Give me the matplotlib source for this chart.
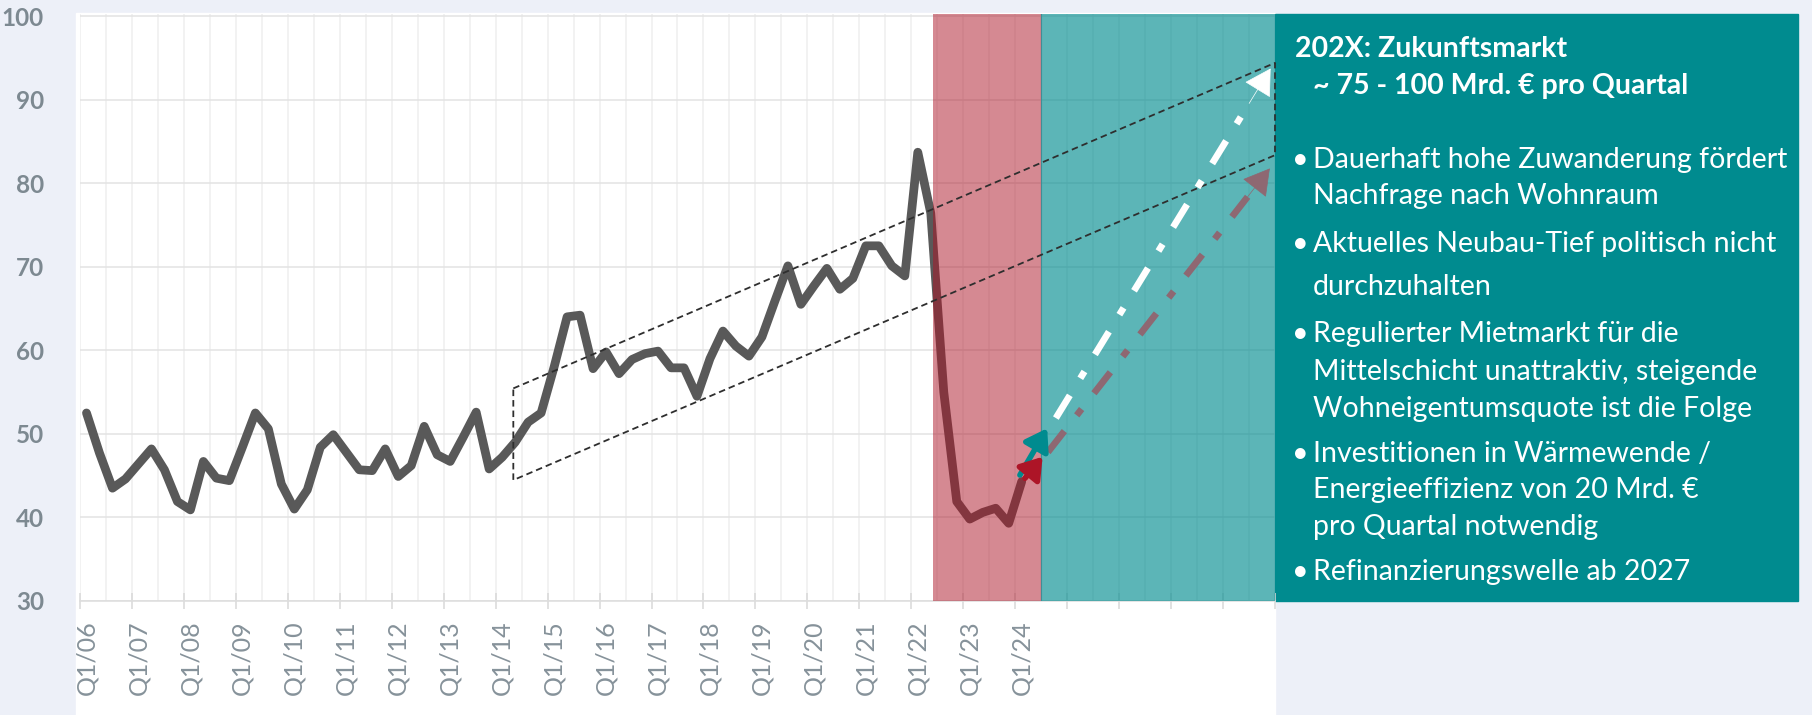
import matplotlib
matplotlib.use('Agg')
import matplotlib.pyplot as plt
from matplotlib.patches import Rectangle
import numpy as np

plt.rcParams['font.family'] = ['Lato', 'DejaVu Sans']

W, H = 1812, 715  # output size in pixels (dpi 100)

# Quarterly values, Q1/06 .. Q1/24 (bn EUR)
values = [52.5, 47.7, 43.5, 44.6, 46.4, 48.2, 45.7, 41.9,
          40.9, 46.7, 44.7, 44.4, 48.4, 52.5, 50.6, 44.0,
          41.0, 43.3, 48.4, 49.9, 47.8, 45.7, 45.6, 48.2,
          44.9, 46.2, 50.9, 47.5, 46.7, 49.6, 52.6, 45.8,
          47.2, 49.0, 51.4, 52.5, 58.0, 64.0, 64.2, 57.8,
          59.8, 57.2, 58.9, 59.6, 59.9, 57.9, 57.9, 54.5,
          59.0, 62.3, 60.5, 59.3, 61.6, 65.9, 70.1, 65.5,
          67.7, 69.8, 67.3, 68.6, 72.5, 72.5, 70.1, 68.9,
          83.7, 76.4, 55.0, 41.9, 39.8, 40.6, 41.1, 39.3,
          44.3]
tick_labels = ['Q1/06', 'Q1/07', 'Q1/08', 'Q1/09', 'Q1/10', 'Q1/11', 'Q1/12',
               'Q1/13', 'Q1/14', 'Q1/15', 'Q1/16', 'Q1/17', 'Q1/18', 'Q1/19',
               'Q1/20', 'Q1/21', 'Q1/22', 'Q1/23', 'Q1/24']
y_ticks = [30, 40, 50, 60, 70, 80, 90, 100]
n_quarters = 92  # axis runs Q1/06 .. Q4/28

# trend channel (parallelogram), x in quarter index
channel_x = [32.86, 91.5]
channel_top = [55.44, 94.39]
channel_bottom = [44.47, 83.35]

# phases: slump and recovery
slump_span = [65.16, 73.5]
future_span = [73.5, 91.5]

# scenario arrows: (start, tip)
teal_arrow = [(71.86, 45.07), (73.96, 50.66)]
red_arrow = [(72.25, 44.68), (73.61, 47.26)]
high_trend = [(74.63, 51.89), (91.16, 93.72)]
low_trend = [(74.02, 47.82), (91.10, 81.76)]

bg = '#edf0f8'
teal = '#008b8f'
crimson = '#ad1527'
label_grey = '#7d8991'

fig = plt.figure(figsize=(W / 100, H / 100), dpi=100, facecolor=bg)

# white chart panel and teal info box
fig.patches.append(Rectangle((76 / W, 0), (1275 - 76) / W, 1 - 13 / H,
                             transform=fig.transFigure, color='white', zorder=-2))
fig.patches.append(Rectangle((1275 / W, 1 - 601 / H), (1798 - 1275) / W, (601 - 13.5) / H,
                             transform=fig.transFigure, color=teal, zorder=-2))

ax = fig.add_axes([80 / W, 1 - 601 / H, (1275 - 80) / W, (601 - 13.5) / H])
ax.set_facecolor('none')
ax.set_xlim(-0.5, n_quarters - 0.5)
ax.set_ylim(30, 100.3)

for s in ['top', 'right', 'left']:
    ax.spines[s].set_visible(False)
ax.spines['bottom'].set_color('#dcdcdc')
ax.spines['bottom'].set_linewidth(1.1)

ax.set_yticks(y_ticks)
ax.set_yticklabels([str(v) for v in y_ticks], fontweight='bold')
ax.tick_params(axis='y', length=0, pad=26, labelsize=17.5, labelcolor=label_grey)
ax.grid(axis='y', color='#e3e3e3', lw=1.1, zorder=0)

# yearly tick marks at boundaries, labels at category centres
ax.set_xticks(np.arange(-0.5, n_quarters, 4))
ax.set_xticklabels([])
ax.tick_params(axis='x', which='major', direction='inout', length=12,
               width=1.1, color='#d9d9d9')
ax.set_xticks(np.arange(0, 4 * len(tick_labels), 4), minor=True)
ax.set_xticklabels(tick_labels, minor=True, rotation=90)
ax.tick_params(axis='x', which='minor', length=0, pad=14, labelsize=18,
               labelcolor='#86929a')
ax.vlines(np.arange(-0.5, n_quarters, 2), 30, 100.3, color='#efefef', lw=1.1, zorder=0.5)

x = np.arange(len(values))
ax.plot(x, values, color='#595959', lw=6.3, solid_joinstyle='round',
        solid_capstyle='round', zorder=2)

ax.axvspan(*slump_span, color=crimson, alpha=0.5, lw=0, zorder=3)
ax.axvspan(*future_span, color=teal, alpha=0.64, lw=0, zorder=3)
ax.axvline(future_span[0], color='#3f8f96', lw=0.8, zorder=3)

# trend channel
cx = [channel_x[0], channel_x[1], channel_x[1], channel_x[0], channel_x[0]]
cy = [channel_top[0], channel_top[1], channel_bottom[1], channel_bottom[0], channel_top[0]]
ax.plot(cx, cy, color='#2e2e2e', lw=1.3, dashes=(3.6, 2.2), zorder=4, clip_on=False)


def dashed_arrow(pts, color):
    (x0, y0), (x1, y1) = pts
    hx, hy = x1 - 0.1 * (x1 - x0), y1 - 0.1 * (y1 - y0)
    ax.plot([x0, hx], [y0, hy], color=color, lw=4.8,
            dashes=(4.0, 3.0, 1.2, 3.0), dash_capstyle='butt', zorder=5)
    ax.annotate('', xy=(x1, y1), xytext=(hx, hy),
                arrowprops=dict(arrowstyle='-|>,head_length=0.45,head_width=0.26',
                                color=color, lw=0.5, mutation_scale=38,
                                shrinkA=0, shrinkB=0), zorder=5)


def solid_arrow(pts, color):
    (x0, y0), (x1, y1) = pts
    ax.annotate('', xy=(x1, y1), xytext=(x0, y0),
                arrowprops=dict(arrowstyle='-|>,head_length=0.45,head_width=0.3',
                                color=color, lw=4.0, mutation_scale=28,
                                shrinkA=0, shrinkB=0), zorder=6)


dashed_arrow(low_trend, '#8e6872')
dashed_arrow(high_trend, 'white')
solid_arrow(teal_arrow, teal)
solid_arrow(red_arrow, crimson)

# info box text
title_lines = [('202X: Zukunftsmarkt', 1295, 57.3),
               ('~ 75 - 100 Mrd. € pro Quartal', 1313, 94)]
for s, px, py in title_lines:
    fig.text(px / W, 1 - py / H, s, color='white', fontsize=20.5,
             fontweight='bold', va='baseline', ha='left')

bullets = [['Dauerhaft hohe Zuwanderung fördert', 'Nachfrage nach Wohnraum'],
           ['Aktuelles Neubau-Tief politisch nicht', 'durchzuhalten'],
           ['Regulierter Mietmarkt für die', 'Mittelschicht unattraktiv, steigende',
            'Wohneigentumsquote ist die Folge'],
           ['Investitionen in Wärmewende /', 'Energieeffizienz von 20 Mrd. €',
            'pro Quartal notwendig'],
           ['Refinanzierungswelle ab 2027']]
baselines = [[168.3, 204], [251.7, 295], [341.7, 380, 417.3],
             [461.7, 498.3, 535], [580]]
for lines, ys in zip(bullets, baselines):
    fig.text(1300 / W, 1 - ys[0] / H, '•', color='white', fontsize=20.5,
             va='baseline', ha='center')
    for s, py in zip(lines, ys):
        fig.text(1313 / W, 1 - py / H, s, color='white', fontsize=20.5,
                 va='baseline', ha='left')

fig.savefig('out.png', dpi=100, facecolor=fig.get_facecolor())
